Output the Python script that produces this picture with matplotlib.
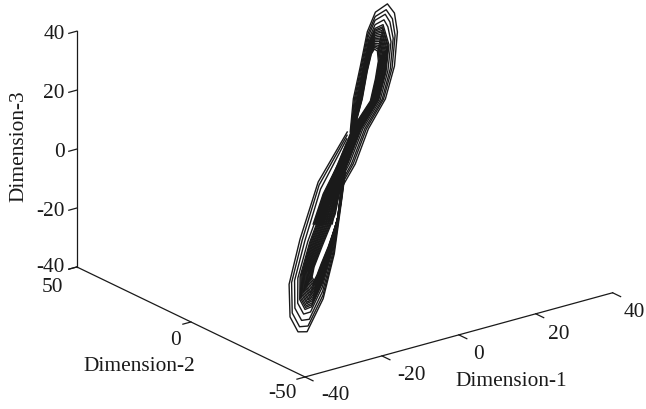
"""
Attractor plotted in three embedding dimensions, drawn with mplot3d.
"""
import matplotlib
matplotlib.use("Agg")
import matplotlib.pyplot as plt
from mpl_toolkits.mplot3d import proj3d

# axis ticks
dim1_ticks = [-40, -20, 0, 20, 40]
dim2_ticks = [-50, 0, 50]
dim3_ticks = [-40, -20, 0, 20, 40]

# upper lobe, one row per loop, inner loop first.
# Dimension-2 follows Dimension-1 closely, the picture cannot separate them.
upper_dim1 = [
    [6.1, 11.2, 14.4, 17.0, 18.9, 20.9, 21.5, 19.6, 16.4, 4.8, -4.2, -13.8, -20.2],
    [6.0, 11.0, 14.2, 16.9, 19.0, 21.2, 22.0, 20.1, 16.8, 5.2, -3.8, -13.4, -19.7],
    [5.9, 10.7, 14.0, 16.8, 19.0, 21.4, 22.5, 20.6, 17.2, 5.6, -3.3, -13.0, -19.2],
    [5.8, 10.5, 13.8, 16.7, 19.0, 21.7, 23.0, 21.1, 17.5, 6.0, -2.9, -12.6, -18.7],
    [5.7, 10.3, 13.7, 16.6, 19.0, 21.9, 23.5, 21.6, 17.9, 6.4, -2.5, -12.3, -18.2],
    [5.6, 10.0, 13.5, 16.5, 19.1, 22.2, 24.0, 22.0, 18.3, 6.9, -2.0, -11.9, -17.8],
    [5.5, 9.8, 13.3, 16.4, 19.1, 22.4, 24.4, 22.5, 18.7, 7.3, -1.6, -11.5, -17.3],
    [5.4, 9.6, 13.1, 16.3, 19.1, 22.7, 24.9, 23.0, 19.1, 7.7, -1.1, -11.1, -16.8],
    [5.3, 9.4, 13.0, 16.2, 19.1, 22.9, 25.4, 23.5, 19.5, 8.1, -0.7, -10.7, -16.3],
    [5.2, 9.1, 12.8, 16.1, 19.2, 23.2, 25.9, 24.0, 19.9, 8.5, -0.3, -10.3, -15.8],
    [5.1, 8.9, 12.6, 16.0, 19.2, 23.5, 26.4, 24.5, 20.2, 8.9, 0.2, -10.0, -15.3],
    [5.0, 8.7, 12.4, 15.9, 19.2, 23.7, 26.9, 25.0, 20.6, 9.3, 0.6, -9.6, -14.8],
    [4.9, 8.5, 12.3, 15.8, 19.2, 24.0, 27.4, 25.5, 21.0, 9.7, 1.0, -9.2, -14.3],
    [4.7, 8.2, 12.1, 15.6, 19.2, 24.2, 27.8, 25.9, 21.4, 10.1, 1.5, -8.8, -13.9],
    [4.6, 8.0, 11.9, 15.5, 19.3, 24.5, 28.3, 26.4, 21.8, 10.6, 1.9, -8.4, -13.4],
    [4.4, 7.4, 11.5, 15.3, 19.4, 25.1, 27.6, 29.6, 27.6, 22.7, 11.6, 3.0, -7.5, -12.1],
    [4.1, 6.8, 11.0, 15.0, 19.4, 25.9, 28.9, 31.0, 29.1, 23.9, 12.8, 4.3, -6.3, -10.7],
    [3.8, 6.2, 10.5, 14.7, 19.5, 26.5, 30.5, 32.2, 30.3, 24.8, 13.8, 5.4, -5.4, -9.5],
    [3.5, 5.5, 10.0, 14.4, 19.6, 27.3, 31.8, 33.7, 31.8, 26.0, 15.1, 6.7, -4.2, -8.0],
]
upper_dim3 = [
    [6.8, 13.2, 20.3, 24.2, 24.5, 22.4, 18.5, 13.8, 8.7, 7.7, 2.4, -0.8, -6.3],
    [6.9, 13.4, 20.5, 24.6, 25.0, 22.9, 18.6, 13.6, 8.4, 7.4, 2.1, -1.1, -6.7],
    [6.9, 13.5, 20.7, 25.0, 25.5, 23.3, 18.6, 13.4, 8.2, 7.1, 1.8, -1.4, -7.0],
    [6.9, 13.7, 20.9, 25.3, 25.9, 23.7, 18.6, 13.2, 7.9, 6.8, 1.5, -1.6, -7.4],
    [6.9, 13.9, 21.1, 25.7, 26.4, 24.2, 18.7, 13.1, 7.7, 6.5, 1.1, -1.9, -7.7],
    [7.0, 14.0, 21.3, 26.1, 26.9, 24.7, 18.7, 12.9, 7.4, 6.2, 0.8, -2.2, -8.1],
    [7.0, 14.2, 21.5, 26.5, 27.4, 25.1, 18.7, 12.7, 7.2, 5.9, 0.5, -2.5, -8.4],
    [7.0, 14.3, 21.7, 26.8, 27.8, 25.5, 18.7, 12.5, 6.9, 5.6, 0.2, -2.8, -8.8],
    [7.1, 14.5, 21.9, 27.2, 28.3, 26.0, 18.8, 12.4, 6.7, 5.3, -0.1, -3.0, -9.1],
    [7.1, 14.7, 22.1, 27.6, 28.8, 26.4, 18.8, 12.2, 6.4, 5.0, -0.5, -3.3, -9.5],
    [7.1, 14.9, 22.3, 28.0, 29.3, 26.9, 18.9, 12.0, 6.2, 4.7, -0.8, -3.6, -9.9],
    [7.1, 15.0, 22.5, 28.3, 29.8, 27.3, 18.9, 11.8, 6.0, 4.4, -1.1, -3.9, -10.2],
    [7.2, 15.2, 22.7, 28.7, 30.3, 27.8, 19.0, 11.6, 5.7, 4.1, -1.4, -4.2, -10.6],
    [7.2, 15.4, 22.9, 29.1, 30.7, 28.2, 19.0, 11.5, 5.5, 3.8, -1.7, -4.4, -10.9],
    [7.2, 15.6, 23.0, 29.5, 31.2, 28.7, 19.1, 11.3, 5.2, 3.5, -2.1, -4.7, -11.3],
    [7.3, 16.0, 23.5, 30.4, 32.4, 29.9, 25.7, 19.2, 10.8, 4.5, 2.8, -2.8, -5.4, -12.2],
    [7.4, 16.5, 24.1, 31.5, 33.9, 31.2, 26.4, 19.3, 10.3, 3.8, 1.9, -3.8, -6.3, -13.2],
    [7.5, 16.9, 24.6, 32.5, 35.1, 32.3, 26.3, 19.4, 9.8, 3.2, 1.1, -4.6, -7.0, -14.1],
    [7.6, 17.4, 25.2, 33.6, 36.5, 33.7, 27.3, 19.5, 9.3, 2.4, 0.2, -5.6, -7.8, -15.2],
]

# lower lobe, same layout
lower_dim1 = [
    [0.3, -6.1, -14.4, -19.6, -20.9, -19.6, -17.7, -15.1, -10.6, -4.8, -1.0],
    [0.3, -6.4, -14.9, -20.1, -21.4, -20.0, -17.9, -15.0, -10.4, -4.7, -0.9],
    [0.4, -6.8, -15.4, -20.7, -21.9, -20.3, -18.1, -15.0, -10.3, -4.6, -0.8],
    [0.4, -7.1, -15.9, -21.2, -22.4, -20.6, -18.3, -15.0, -10.2, -4.5, -0.7],
    [0.5, -7.4, -16.4, -21.8, -22.9, -21.0, -18.6, -14.9, -10.1, -4.4, -0.6],
    [0.5, -7.8, -16.9, -22.4, -23.4, -21.4, -18.8, -14.9, -9.9, -4.2, -0.4],
    [0.6, -8.1, -17.4, -23.0, -23.9, -21.8, -19.0, -14.8, -9.8, -4.1, -0.3],
    [0.6, -8.4, -17.9, -23.5, -24.4, -22.1, -19.2, -14.7, -9.6, -4.0, -0.2],
    [0.7, -8.8, -18.4, -24.1, -24.8, -22.5, -19.5, -14.7, -9.5, -3.9, -0.1],
    [0.7, -9.1, -18.9, -24.6, -25.3, -22.8, -19.7, -14.6, -9.3, -3.8, 0.0],
    [0.8, -9.5, -19.4, -25.2, -25.8, -23.2, -19.9, -14.6, -9.2, -3.7, 0.1],
    [0.8, -9.8, -19.9, -25.7, -26.3, -23.5, -20.1, -14.6, -9.1, -3.6, 0.2],
    [0.8, -10.1, -20.4, -26.3, -26.8, -23.9, -20.4, -14.6, -9.0, -3.5, 0.3],
    [0.9, -10.4, -20.9, -26.8, -27.3, -24.2, -20.6, -14.5, -8.8, -3.3, 0.4],
    [0.9, -10.8, -21.4, -27.4, -27.8, -24.6, -20.8, -14.5, -8.7, -3.2, 0.6],
    [1.0, -11.1, -21.9, -28.0, -28.3, -25.0, -21.0, -14.4, -8.5, -3.1, 0.7],
    [1.0, -11.5, -22.4, -28.6, -28.8, -25.4, -21.3, -14.4, -8.4, -3.0, 0.8],
    [1.1, -12.3, -23.6, -30.0, -30.1, -26.3, -21.9, -14.3, -8.1, -2.7, 1.1],
    [1.3, -15.5, -25.5, -32.1, -31.9, -27.6, -22.7, -14.1, -7.6, -2.3, 1.5],
    [1.5, -16.4, -27.2, -34.0, -33.6, -28.9, -23.5, -13.9, -7.1, -2.0, 1.9],
    [1.6, -17.0, -28.6, -35.6, -35.0, -29.9, -24.1, -13.8, -6.7, -1.6, 2.2],
]
lower_dim3 = [
    [-0.9, -13.2, -18.0, -21.3, -23.8, -26.0, -25.4, -23.6, -21.1, -16.5, -3.4],
    [-0.5, -12.6, -17.5, -21.1, -23.9, -26.3, -25.9, -24.0, -21.3, -16.3, -3.2],
    [-0.2, -12.0, -17.1, -20.9, -24.0, -26.7, -26.4, -24.5, -21.5, -16.1, -3.0],
    [0.1, -11.3, -16.6, -20.7, -24.1, -27.0, -26.9, -25.0, -21.6, -15.8, -2.7],
    [0.5, -10.7, -16.2, -20.5, -24.2, -27.4, -27.4, -25.4, -21.8, -15.6, -2.5],
    [0.8, -10.1, -15.7, -20.3, -24.3, -27.7, -28.0, -25.9, -22.0, -15.4, -2.3],
    [1.2, -9.5, -15.3, -20.1, -24.5, -28.1, -28.5, -26.3, -22.2, -15.2, -2.1],
    [1.5, -8.8, -14.8, -19.9, -24.6, -28.4, -29.0, -26.7, -22.4, -15.0, -1.9],
    [1.9, -8.2, -14.4, -19.7, -24.7, -28.7, -29.5, -27.2, -22.6, -14.8, -1.7],
    [2.2, -7.6, -14.0, -19.5, -24.8, -29.0, -30.0, -27.6, -22.8, -14.5, -1.4],
    [2.6, -7.0, -13.6, -19.3, -24.9, -29.4, -30.5, -28.0, -22.9, -14.3, -1.2],
    [2.9, -6.3, -13.1, -19.1, -25.0, -29.7, -31.0, -28.4, -23.1, -14.1, -1.0],
    [3.3, -5.7, -12.7, -18.9, -25.1, -30.1, -31.5, -28.9, -23.3, -13.9, -0.8],
    [3.6, -5.1, -12.2, -18.7, -25.2, -30.4, -32.0, -29.3, -23.4, -13.7, -0.6],
    [4.0, -4.5, -11.8, -18.5, -25.4, -30.8, -32.6, -29.8, -23.6, -13.5, -0.4],
    [4.3, -3.8, -11.3, -18.3, -25.5, -31.1, -33.1, -30.2, -23.8, -13.2, -0.2],
    [4.6, -3.2, -10.9, -18.1, -25.6, -31.5, -33.6, -30.7, -24.0, -13.0, 0.1],
    [5.5, -1.6, -9.7, -17.5, -25.9, -32.4, -34.9, -31.9, -24.5, -12.5, 0.6],
    [6.9, 2.1, -8.1, -16.8, -26.3, -33.6, -36.8, -33.5, -25.2, -11.7, 1.4],
    [8.0, 4.15, -6.6, -16.1, -26.7, -34.8, -38.5, -35.0, -25.8, -10.9, 2.2],
    [9.0, 5.6, -5.3, -15.5, -27.0, -35.8, -40.0, -36.3, -26.3, -10.3, 2.8],
]

INK = "#1a1a1a"
WIDTH, HEIGHT = 646, 410

plt.rcParams["font.family"] = ["Liberation Serif", "DejaVu Serif"]
plt.rcParams["font.size"] = 15.4

fig = plt.figure(figsize=(WIDTH / 100, HEIGHT / 100), dpi=100)
ax = fig.add_axes([16.2 / WIDTH, 36.5 / HEIGHT, 1, 1], projection="3d", proj_type="ortho")
ax.view_init(elev=21.3, azim=-127)
ax.set_box_aspect((385, 379, 253), zoom=1.413)
ax.set_xlim(-40, 40)
ax.set_ylim(-50, 50)
ax.set_zlim(-40, 40)
ax.set_axis_off()
ax.patch.set_alpha(0)

for d1_rows, d3_rows in [(upper_dim1, upper_dim3), (lower_dim1, lower_dim3)]:
    for d1, d3 in zip(d1_rows, d3_rows):
        ax.plot(d1, d1, d3, color=INK, lw=1.0, clip_on=False)

# box edges, MATLAB style: only the three outer axes
x0, x1 = dim1_ticks[0], dim1_ticks[-1]
y0, y1 = dim2_ticks[0], dim2_ticks[-1]
z0, z1 = dim3_ticks[0], dim3_ticks[-1]
ax.plot([x0, x1], [y0, y0], [z0, z0], color=INK, lw=0.9, clip_on=False)
ax.plot([x0, x0], [y0, y1], [z0, z0], color=INK, lw=0.9, clip_on=False)
ax.plot([x0, x0], [y1, y1], [z0, z1], color=INK, lw=0.9, clip_on=False)

for t in dim1_ticks:
    ax.plot([t, t], [y0, y0 - 3.5], [z0, z0], color=INK, lw=0.9, clip_on=False)
for t in dim2_ticks:
    ax.plot([x0, x0 - 2.1], [t, t], [z0, z0], color=INK, lw=0.9, clip_on=False)
for t in dim3_ticks:
    ax.plot([x0, x0 - 2.1], [y1, y1], [t, t], color=INK, lw=0.9, clip_on=False)

fig.canvas.draw()


def to_px(d1, d2, d3):
    px, py, _ = proj3d.proj_transform(d1, d2, d3, ax.M)
    sx, sy = ax.transData.transform((px, py))
    return sx, HEIGHT - sy


def label(text, px, py, **kw):
    kw.setdefault("ha", "center")
    fig.text(px / WIDTH, 1 - py / HEIGHT, text, va="center", color=INK, **kw)


# tick labels sit a fixed offset from their tick
for t, off in zip(dim1_ticks, [(30, 18), (30, 19), (20, 19), (23, 20), (22, 19)]):
    sx, sy = to_px(t, y0, z0)
    label(str(t), sx + off[0], sy + off[1])
for t, off in zip(dim2_ticks, [(-23, 16), (-15, 18), (-24, 20)]):
    sx, sy = to_px(x0, t, z0)
    label(str(t), sx + off[0], sy + off[1])
for t in dim3_ticks:
    sx, sy = to_px(x0, y1, t)
    label(str(t), sx - 12, sy + (0 if t == z0 else 2), ha="right")

sx, sy = to_px(0, y0, z0)
label("Dimension-1", sx + 52, sy + 46)
sx, sy = to_px(x0, 0, z0)
label("Dimension-2", sx - 52, sy + 44)
sx, sy = to_px(x0, y1, 0)
label("Dimension-3", sx - 58, sy - 4, rotation=90)

fig.savefig("out.png", dpi=100)
